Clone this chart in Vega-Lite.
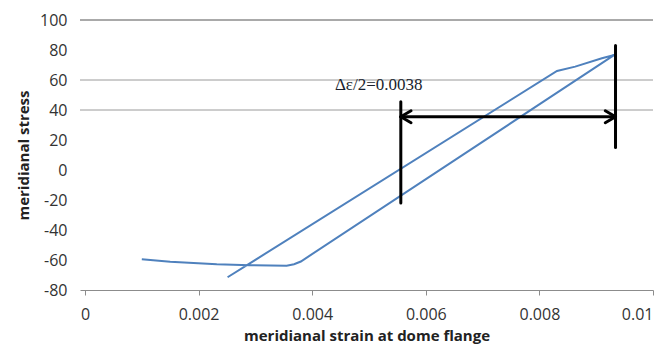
{
  "$schema": "https://vega.github.io/schema/vega-lite/v6.json",
  "width": 573,
  "height": 270,
  "padding": {"left": 80, "top": 20, "right": 17, "bottom": 60},
  "autosize": {"type": "none"},
  "config": {
    "view": {"stroke": null},
    "font": "Open Sans"
  },
  "datasets": {
    "curve": [
      {"order": 1, "strain": 0.0010, "stress": -59.5},
      {"order": 2, "strain": 0.0015, "stress": -61.1},
      {"order": 3, "strain": 0.00232, "stress": -62.9},
      {"order": 4, "strain": 0.0029, "stress": -63.5},
      {"order": 5, "strain": 0.00355, "stress": -63.8},
      {"order": 6, "strain": 0.00368, "stress": -62.8},
      {"order": 7, "strain": 0.0038, "stress": -61},
      {"order": 8, "strain": 0.00932, "stress": 76.7},
      {"order": 9, "strain": 0.0091, "stress": 74.5},
      {"order": 10, "strain": 0.00863, "stress": 68.9},
      {"order": 11, "strain": 0.00831, "stress": 66},
      {"order": 12, "strain": 0.00251, "stress": -71.5}
    ],
    "grid": [
      {"stress": 100, "tone": "dark"},
      {"stress": 60, "tone": "light"},
      {"stress": 40, "tone": "light"}
    ],
    "marks": [
      {"x": 0.00556, "y": 45.5, "x2": 0.00556, "y2": -22},
      {"x": 0.00934, "y": 83, "x2": 0.00934, "y2": 15},
      {"x": 0.00556, "y": 35.5, "x2": 0.00934, "y2": 35.5},
      {"x": 0.00574, "y": 39.5, "x2": 0.00556, "y2": 35.5},
      {"x": 0.00574, "y": 31.5, "x2": 0.00556, "y2": 35.5},
      {"x": 0.00916, "y": 39.5, "x2": 0.00934, "y2": 35.5},
      {"x": 0.00916, "y": 31.5, "x2": 0.00934, "y2": 35.5}
    ],
    "label": [
      {"x": 0.0044, "y": 56.5, "text": "Δε/2=0.0038"}
    ]
  },
  "layer": [
    {
      "data": {"name": "grid"},
      "mark": {"type": "rule", "strokeWidth": 1},
      "encoding": {
        "y": {
          "field": "stress", "type": "quantitative",
          "scale": {"domain": [-80, 100], "nice": false},
          "axis": {
            "values": [-80, -60, -40, -20, 0, 20, 40, 60, 80, 100],
            "tickCount": 10,
            "labelExpr": "'' + datum.value",
            "grid": false,
            "domain": false,
            "ticks": false,
            "labelPadding": 13,
            "labelFontSize": 16,
            "labelColor": "#333333",
            "labelFont": "Open Sans",
            "labelOverlap": false,
            "labelFlush": false,
            "title": "meridianal stress",
            "titleFont": "Open Sans",
            "titleFontSize": 15,
            "titleFontWeight": "bold",
            "titleColor": "#222222",
            "titlePadding": 8
          }
        },
        "color": {"field": "tone", "type": "nominal", "scale": {"domain": ["dark", "light"], "range": ["#555555", "#9a9a9a"]}, "legend": null}
      }
    },
    {
      "data": {"name": "curve"},
      "mark": {"type": "line", "color": "#4f81bd", "strokeWidth": 2},
      "encoding": {
        "x": {
          "field": "strain", "type": "quantitative",
          "scale": {"domain": [-0.000088, 0.01], "nice": false, "zero": false},
          "axis": {
            "values": [0, 0.002, 0.004, 0.006, 0.008, 0.01],
            "format": "~g",
            "grid": false,
            "domainColor": "#8c8c8c",
            "tickColor": "#8c8c8c",
            "tickSize": 5,
            "labelPadding": 11,
            "labelFontSize": 16,
            "labelColor": "#333333",
            "labelFont": "Open Sans",
            "labelOverlap": false,
            "title": "meridianal strain at dome flange",
            "titleFont": "Open Sans",
            "titleFontSize": 15,
            "titleFontWeight": "bold",
            "titleColor": "#222222",
            "titlePadding": 6
          }
        },
        "y": {"field": "stress", "type": "quantitative"},
        "order": {"field": "order", "type": "quantitative"}
      }
    },
    {
      "data": {"name": "marks"},
      "mark": {"type": "rule", "color": "#000000", "strokeWidth": 3, "strokeCap": "round"},
      "encoding": {
        "x": {"field": "x", "type": "quantitative"},
        "y": {"field": "y", "type": "quantitative"},
        "x2": {"field": "x2"},
        "y2": {"field": "y2"}
      }
    },
    {
      "data": {"name": "label"},
      "mark": {"type": "text", "align": "left", "baseline": "middle", "font": "Liberation Serif", "fontSize": 17, "color": "#1a1f2e"},
      "encoding": {
        "x": {"field": "x", "type": "quantitative"},
        "y": {"field": "y", "type": "quantitative"},
        "text": {"field": "text", "type": "nominal"}
      }
    }
  ]
}
